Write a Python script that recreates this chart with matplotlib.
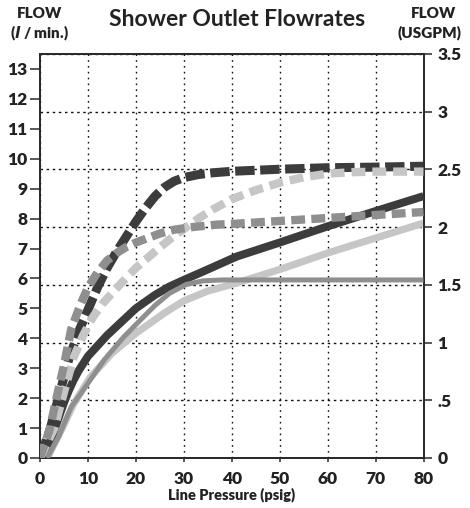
import matplotlib
matplotlib.use("Agg")
import matplotlib.pyplot as plt

plt.rcParams['font.family'] = ['Lato', 'DejaVu Sans']
plt.rcParams['lines.scale_dashes'] = False

# ---- data (flow in l/min vs line pressure psig) ----
dark_dash_x = [0, 2, 4, 6, 8, 10, 12, 14, 16, 18, 20, 22, 24, 26, 28, 30, 33, 36, 40, 50, 60, 70, 80]
dark_dash_y = [0, 0.9, 2.1, 3.3, 4.2, 4.95, 5.7, 6.35, 6.9, 7.4, 7.9, 8.35, 8.75, 9.05, 9.25, 9.37, 9.47, 9.53, 9.58, 9.65, 9.7, 9.72, 9.75]

gray_dash_x = [0, 2, 4, 5, 6.5, 8.5, 10, 12, 14, 16, 18, 20, 22.5, 25, 28, 32, 37, 40, 50, 60, 70, 80]
gray_dash_y = [0, 0.95, 2.4, 3.1, 4.3, 5.15, 5.7, 6.2, 6.6, 6.85, 7.05, 7.2, 7.35, 7.5, 7.63, 7.72, 7.8, 7.82, 7.92, 8.02, 8.12, 8.22]

light_dash_x = [0, 3, 5, 7, 9, 11, 13, 15, 17, 20, 24, 27, 30, 33, 36, 40, 45, 50, 55, 60, 65, 70, 80]
light_dash_y = [0, 1.0, 2.2, 3.35, 4.1, 4.7, 5.15, 5.5, 5.85, 6.35, 6.9, 7.3, 7.65, 8.0, 8.3, 8.65, 8.95, 9.2, 9.38, 9.5, 9.55, 9.57, 9.57]

dark_solid_x = [0, 2, 3, 4, 5, 6, 7, 8, 9, 10, 12, 14, 17, 20, 24, 27, 30, 34, 41, 50, 60, 70, 80]
dark_solid_y = [0.05, 0.5, 0.95, 1.4, 1.85, 2.25, 2.6, 2.9, 3.15, 3.4, 3.75, 4.1, 4.55, 5.0, 5.45, 5.73, 5.95, 6.23, 6.73, 7.2, 7.74, 8.25, 8.75]

gray_solid_x = [1.5, 4, 6.5, 10, 13.5, 17.5, 21.5, 24, 27, 30.5, 34, 38, 50, 60, 70, 80]
gray_solid_y = [0.0, 0.75, 1.7, 2.5, 3.3, 4.05, 4.7, 5.1, 5.5, 5.8, 5.92, 5.95, 5.95, 5.95, 5.95, 5.95]

light_solid_x = [1.5, 4.5, 7, 10.5, 15, 20, 22.5, 26, 30, 35, 40, 50, 60, 70, 80]
light_solid_y = [0.0, 0.95, 1.8, 2.7, 3.5, 4.17, 4.45, 4.85, 5.25, 5.58, 5.8, 6.3, 6.85, 7.35, 7.85]

x_ticks = [0, 10, 20, 30, 40, 50, 60, 70, 80]
left_ticks = list(range(0, 14))
right_ticks = [0, 0.5, 1, 1.5, 2, 2.5, 3, 3.5]
right_labels = ['0', '.5', '1', '1.5', '2', '2.5', '3', '3.5']

DARK = '#3c3c3c'
MID = '#8f8f8f'
LIGHT = '#c6c6c6'
AX = '#2a2a2a'
TXT = '#222222'
W = 'heavy'

fig = plt.figure(figsize=(4.70, 5.08), dpi=100)
ax = fig.add_axes([40/470, 50/508, 383.5/470, 404/508])
ax2 = ax.twinx()

ax.set_zorder(ax2.get_zorder() + 1)
ax.patch.set_visible(False)

ax.set_xlim(0, 80)
ax.set_ylim(0, 13.5)
ax2.set_ylim(0, 3.5)

# curves
ax.plot(light_solid_x, light_solid_y, color=LIGHT, lw=5.2, solid_capstyle='butt', zorder=2)
ax.plot(dark_solid_x, dark_solid_y, color=DARK, lw=5.8, solid_capstyle='butt', zorder=3)
ax.plot(gray_solid_x, gray_solid_y, color=MID, lw=3.6, solid_capstyle='butt', zorder=4)
ax.plot(dark_dash_x, dark_dash_y, color=DARK, lw=6.5, dashes=(14, 4), dash_capstyle='butt', zorder=5)
ax.plot(light_dash_x, light_dash_y, color=LIGHT, lw=6.0, dashes=(10, 5), dash_capstyle='butt', zorder=6)
ax.plot(gray_dash_x, gray_dash_y, color=MID, lw=6.0, dashes=(10, 4.5), dash_capstyle='butt', zorder=7)

# grid: vertical from x axis, horizontal from right axis
ax.set_xticks(x_ticks)
ax.grid(axis='x', color='#111111', lw=1.0, linestyle=(0, (1.2, 3.0)))
ax2.set_yticks(right_ticks)
ax2.set_yticklabels(right_labels)
ax2.grid(axis='y', color='#111111', lw=1.0, linestyle=(0, (1.8, 2.6)))

ax.set_yticks(left_ticks)
ax.set_xticklabels([str(v) for v in x_ticks])

for a in (ax, ax2):
    for s in a.spines.values():
        s.set_color(AX)
        s.set_linewidth(1.3)

ax.tick_params(axis='y', direction='out', length=7, width=1.1, color=AX,
               labelsize=12.5, pad=2, labelcolor=TXT)
ax.tick_params(axis='x', direction='out', length=3, width=1.1, color=AX,
               labelsize=12.5, pad=6, labelcolor=TXT)
ax2.tick_params(axis='y', direction='out', length=6, width=1.1, color=AX,
                labelsize=12.5, pad=4, labelcolor=TXT)
for lab in ax.get_xticklabels() + ax.get_yticklabels() + ax2.get_yticklabels():
    lab.set_fontweight(W)

ax.set_xlabel('Line Pressure (psig)', fontsize=10.5, fontweight=W, color=TXT, labelpad=1)

fig.text(237/470, 1 - 19/508, 'Shower Outlet Flowrates', ha='center', va='center',
         fontsize=16.5, fontweight='bold', color=TXT)
fig.text(39/470, 1 - 13/508, 'FLOW', ha='center', va='center', fontsize=11, fontweight=W, color=TXT)
fig.text(39/470, 1 - 33/508, r'($\mathbfit{l}$ / min.)', ha='center', va='center', fontsize=11,
         fontweight=W, color=TXT)
fig.text(434/470, 1 - 13/508, 'FLOW', ha='center', va='center', fontsize=11, fontweight=W, color=TXT)
fig.text(430/470, 1 - 33/508, '(USGPM)', ha='center', va='center', fontsize=11, fontweight=W, color=TXT)

fig.savefig('out.png', dpi=100)
